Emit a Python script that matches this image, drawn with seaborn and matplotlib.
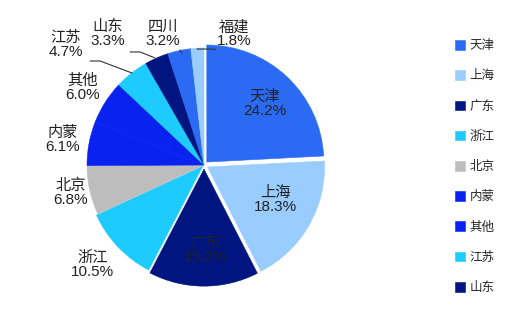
import matplotlib
matplotlib.use("Agg")
import matplotlib.pyplot as plt
import seaborn as sns

sns.set_theme(style="white")
plt.rcParams['font.family'] = ['Liberation Sans', 'Noto Sans CJK SC', 'DejaVu Sans']

regions = ["天津", "上海", "广东", "浙江", "北京", "内蒙", "其他", "江苏", "山东", "四川", "福建"]
shares = [24.2, 18.3, 15.2, 10.5, 6.8, 6.1, 6.0, 4.7, 3.3, 3.2, 1.8]
colors = ["#2B6BF3", "#99CCFF", "#00157F", "#1ECBFF", "#BDBDBD", "#0A22F0",
          "#0A22F0", "#1ECBFF", "#00157F", "#2B6BF3", "#99CCFF"]
explode = [0.035, 0.035, 0.035, 0.015, 0, 0, 0, 0, 0, 0, 0]
legend_count = 9

# label positions (in pie-radius units)
label_pos = [(0.52, 0.52), (0.61, -0.30), (0.01, -0.72), (-0.95, -0.855),
             (-1.14, -0.24), (-1.21, 0.21), (-1.04, 0.66), (-1.18, 1.03),
             (-0.82, 1.12), (-0.35, 1.12), (0.26, 1.12)]
leaders = {
    "江苏": [(-0.974, 0.889), (-0.889, 0.889), (-0.615, 0.786)],
    "山东": [(-0.632, 0.966), (-0.547, 0.966), (-0.419, 0.915)],
    "四川": [(-0.205, 0.983), (-0.188, 0.957)],
    "福建": [(-0.06, 0.991), (0.077, 0.991), (0.10, 0.985)],
}

fig = plt.figure(figsize=(5.2, 3.12), dpi=100)
ax = fig.add_axes([0, 0, 408 / 520, 1])
wedges, _ = ax.pie(shares, colors=colors, startangle=90, counterclock=False,
                   explode=explode, radius=1.0,
                   wedgeprops=dict(linewidth=0.4))
for w in wedges:
    w.set_edgecolor(w.get_facecolor())
ax.set_xlim(-1.744, 1.744)
ax.set_ylim(-1.256, 1.410)
ax.set_aspect("auto")
ax.axis("off")

for name, val, (x, y) in zip(regions, shares, label_pos):
    ax.text(x, y, f"{name}\n{val:.1f}%", ha="center", va="center",
            fontsize=11, color="#222222", linespacing=1.0)

for name, pts in leaders.items():
    xs, ys = zip(*pts)
    ax.plot(xs, ys, color="#333333", lw=0.8)

fig.legend(wedges[:legend_count], regions[:legend_count], loc="upper left",
           bbox_to_anchor=(450 / 520, 1 - 35 / 312), frameon=False,
           fontsize=9, handlelength=0.8, handleheight=0.8, handletextpad=0.35,
           labelspacing=1.45, borderaxespad=0)

fig.savefig("out.png", dpi=100)
